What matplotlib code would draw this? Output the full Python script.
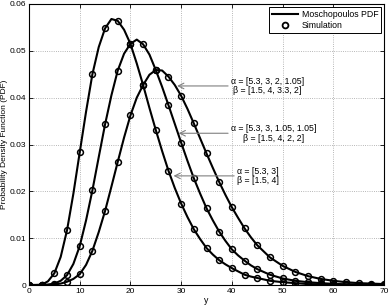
import matplotlib
matplotlib.use("Agg")
import matplotlib.pyplot as plt
from matplotlib.lines import Line2D

# ---- data ----
# simulation markers, x step 2.5 from 0 to 70
sim_x = [0, 2.5, 5, 7.5, 10, 12.5, 15, 17.5, 20, 22.5, 25, 27.5, 30, 32.5, 35, 37.5,
         40, 42.5, 45, 47.5, 50, 52.5, 55, 57.5, 60, 62.5, 65, 67.5, 70]
sim_c1 = [0, 0.00005, 0.0025, 0.0117, 0.0283, 0.0450, 0.0548, 0.0564, 0.0515, 0.0427,
          0.0331, 0.0244, 0.0174, 0.0119, 0.0079, 0.0053, 0.0036, 0.0022, 0.0015,
          0.0009, 0.0006, 0.0004, 0.0002, 0.00015, 0.0001, 0.00005, 0.00003, 0.00002, 0.00001]
sim_c2 = [0, 0.00001, 0.0003, 0.0021, 0.0083, 0.0202, 0.0343, 0.0458, 0.0515, 0.0514,
          0.0459, 0.0384, 0.0304, 0.0228, 0.0164, 0.0114, 0.0076, 0.0052, 0.0034,
          0.0022, 0.0014, 0.0009, 0.0006, 0.0004, 0.00025, 0.00015, 0.0001, 0.00006, 0.00004]
sim_c3 = [0, 0, 0.0001, 0.0007, 0.0023, 0.0073, 0.0158, 0.0263, 0.0362, 0.0427,
          0.0459, 0.0445, 0.0404, 0.0345, 0.0281, 0.0220, 0.0166, 0.0121, 0.0085,
          0.0059, 0.0041, 0.0028, 0.0019, 0.0013, 0.0009, 0.0006, 0.0004, 0.0003, 0.0002]

# analytical curves, denser sampling (step 1.25 up to 45, then 2.5)
pdf_x = [0, 1.25, 2.5, 3.75, 5, 6.25, 7.5, 8.75, 10, 11.25, 12.5, 13.75, 15, 16.25,
         17.5, 18.75, 20, 21.25, 22.5, 23.75, 25, 26.25, 27.5, 28.75, 30, 31.25,
         32.5, 33.75, 35, 36.25, 37.5, 38.75, 40, 41.25, 42.5, 43.75, 45,
         47.5, 50, 52.5, 55, 57.5, 60, 62.5, 65, 67.5, 70]
pdf_c1 = [0, 0, 0.00005, 0.0008, 0.0025, 0.0060, 0.0117, 0.0195, 0.0283, 0.0370,
          0.0450, 0.0508, 0.0548, 0.0568, 0.0564, 0.0545, 0.0515, 0.0473, 0.0427,
          0.0378, 0.0331, 0.0286, 0.0244, 0.0207, 0.0174, 0.0145, 0.0119, 0.0098,
          0.0079, 0.0065, 0.0053, 0.0044, 0.0036, 0.0029, 0.0022, 0.0018, 0.0015,
          0.0009, 0.0006, 0.0004, 0.0002, 0.00015, 0.0001, 0.00005, 0.00003, 0.00002, 0.00001]
pdf_c2 = [0, 0, 0.00001, 0.0001, 0.0003, 0.0009, 0.0021, 0.0045, 0.0083, 0.0138,
          0.0202, 0.0273, 0.0343, 0.0405, 0.0458, 0.0494, 0.0515, 0.0524, 0.0514,
          0.0492, 0.0459, 0.0423, 0.0384, 0.0344, 0.0304, 0.0265, 0.0228, 0.0195,
          0.0164, 0.0138, 0.0114, 0.0094, 0.0076, 0.0063, 0.0052, 0.0042, 0.0034,
          0.0022, 0.0014, 0.0009, 0.0006, 0.0004, 0.00025, 0.00015, 0.0001, 0.00006, 0.00004]
pdf_c3 = [0, 0, 0, 0, 0.0001, 0.0003, 0.0007, 0.0013, 0.0023, 0.0043,
          0.0073, 0.0113, 0.0158, 0.0210, 0.0263, 0.0315, 0.0362, 0.0400, 0.0427,
          0.0449, 0.0459, 0.0458, 0.0445, 0.0427, 0.0404, 0.0376, 0.0345, 0.0313,
          0.0281, 0.0250, 0.0220, 0.0192, 0.0166, 0.0143, 0.0121, 0.0102, 0.0085,
          0.0059, 0.0041, 0.0028, 0.0019, 0.0013, 0.0009, 0.0006, 0.0004, 0.0003, 0.0002]

labels = ["α = [5.3, 3, 2, 1.05]\nβ = [1.5, 4, 3.3, 2]",
          "α = [5.3, 3, 1.05, 1.05]\nβ = [1.5, 4, 2, 2]",
          "α = [5.3, 3]\nβ = [1.5, 4]"]
arrow_tips = [(29.2, 0.0425), (29.5, 0.0324), (28.5, 0.0233)]
text_pos = [(39.8, 0.0425), (39.8, 0.0324), (41.0, 0.0233)]
legend_labels = ["Moschopoulos PDF", "Simulation"]

plt.rcParams['font.family'] = ['Liberation Sans', 'DejaVu Sans']

fig = plt.figure(figsize=(3.9, 3.07), dpi=100)
ax = fig.add_axes([29 / 390, 22 / 307, 355 / 390, 281 / 307])

for yv in (pdf_c1, pdf_c2, pdf_c3):
    ax.plot(pdf_x, yv, color='black', lw=1.5, zorder=3)
for yv in (sim_c1, sim_c2, sim_c3):
    ax.plot(sim_x, yv, ls='none', marker='o', ms=4.2, mfc='none', mec='black',
            mew=1.1, zorder=4)

for lab, tip, tp in zip(labels, arrow_tips, text_pos):
    ax.annotate(lab, xy=tip, xytext=tp, ha='left', va='center',
                multialignment='center', fontsize=6.3, linespacing=1.1,
                arrowprops=dict(arrowstyle='->', color='#808080', lw=0.8,
                                shrinkA=0, shrinkB=0, mutation_scale=10),
                zorder=5)

ax.set_xlim(0, 70)
ax.set_ylim(0, 0.06)
ax.set_xticks(range(0, 71, 10))
ax.set_yticks([0, 0.01, 0.02, 0.03, 0.04, 0.05, 0.06])
ax.set_yticklabels(["0", "0.01", "0.02", "0.03", "0.04", "0.05", "0.06"])
ax.tick_params(labelsize=6, direction='in', length=3, width=0.6, pad=2,
               top=True, right=True)
ax.grid(True, ls=':', color='#a0a0a0', lw=0.6)
for s in ax.spines.values():
    s.set_linewidth(0.8)
ax.set_xlabel("y", fontsize=6.3, labelpad=1)
ax.set_ylabel("Probability Density Function (PDF)", fontsize=6, labelpad=1)

handles = [Line2D([], [], color='black', lw=1.5),
           Line2D([], [], ls='none', marker='o', ms=4.2, mfc='none', mec='black', mew=1.3)]
leg = ax.legend(handles, legend_labels, loc='upper right', fontsize=6.3,
                frameon=True, fancybox=False, edgecolor='black', framealpha=1,
                borderpad=0.35, labelspacing=0.3, handlelength=3.0,
                handletextpad=0.4, borderaxespad=0.3)
leg.get_frame().set_linewidth(0.7)

fig.savefig("out.png", dpi=100)
